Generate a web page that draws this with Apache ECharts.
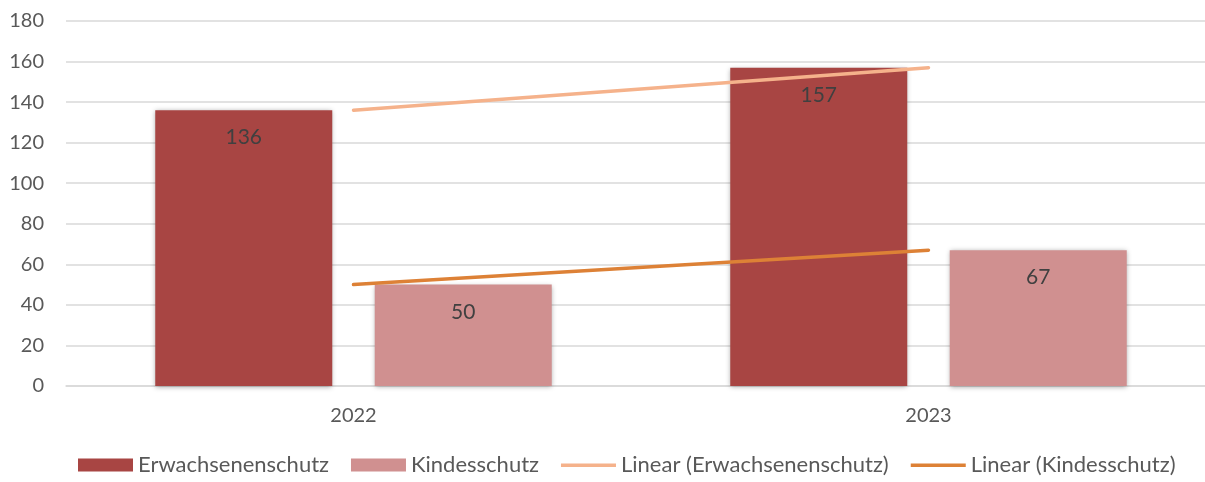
<!DOCTYPE html>
<html>
<head>
<meta charset="utf-8">
<script src="https://cdn.jsdelivr.net/npm/echarts@6/dist/echarts.min.js"></script>
<style>
  html, body { margin: 0; padding: 0; background: #fff; }
  #chart { width: 1205px; height: 482px; }
</style>
</head>
<body>
<div id="chart"></div>
<script>
// Chart data
const years = ['2022', '2023'];
const adultProtection = [136, 157];
const childProtection = [50, 67];
const yTicks = { min: 0, max: 180, step: 20 };

const FONT = 'Lato';
const TEXT = '#595959';

// thin line icon inside a full-height box so it is not stretched
const LINE_ICON = 'path://M0,0L0.1,0M0,5L55,5L55,8.5L0,8.5ZM0,13L0.1,13';

const chart = echarts.init(document.getElementById('chart'));

const barShadow = {
    shadowBlur: 5,
    shadowColor: 'rgba(0,0,0,0.35)',
    shadowOffsetX: 0,
    shadowOffsetY: 1
};

chart.setOption({
    animation: false,
    textStyle: { fontFamily: FONT },
    grid: { left: 66, right: -11, top: 21, bottom: 96, outerBoundsMode: 'none' },
    legend: {
        bottom: 1,
        left: 73,
        itemWidth: 55,
        itemHeight: 13,
        itemGap: 22,
        textStyle: { fontSize: 22, color: TEXT, fontFamily: FONT },
        data: [
            { name: 'Erwachsenenschutz', icon: 'rect' },
            { name: 'Kindesschutz', icon: 'rect' },
            { name: 'Linear (Erwachsenenschutz)', icon: LINE_ICON },
            { name: 'Linear (Kindesschutz)', icon: LINE_ICON }
        ]
    },
    xAxis: {
        type: 'category',
        data: years,
        axisLine: { lineStyle: { color: '#d9d9d9', width: 1.5 } },
        axisTick: { show: false },
        axisLabel: { fontSize: 20, color: TEXT, margin: 20 }
    },
    yAxis: {
        type: 'value',
        min: yTicks.min,
        max: yTicks.max,
        interval: yTicks.step,
        axisLine: { show: false },
        axisTick: { show: false },
        splitLine: { lineStyle: { color: '#d9d9d9', width: 1.5 } },
        axisLabel: { fontSize: 20, color: TEXT, margin: 22 }
    },
    series: [
        {
            name: 'Erwachsenenschutz',
            type: 'bar',
            data: adultProtection,
            barWidth: 177,
            barGap: '24%',
            itemStyle: Object.assign({ color: '#A84543' }, barShadow),
            label: { show: true, position: 'insideTop', distance: 17, fontSize: 21, color: '#404040' }
        },
        {
            name: 'Kindesschutz',
            type: 'bar',
            data: childProtection,
            barWidth: 177,
            barGap: '24%',
            itemStyle: Object.assign({ color: '#D09090' }, barShadow),
            label: { show: true, position: 'insideTop', distance: 17, fontSize: 21, color: '#404040' }
        },
        {
            name: 'Linear (Erwachsenenschutz)',
            type: 'line',
            data: adultProtection,
            symbol: 'none',
            z: 5,
            lineStyle: { color: '#F5B28B', width: 3.5, cap: 'round' },
            itemStyle: { color: '#F5B28B' }
        },
        {
            name: 'Linear (Kindesschutz)',
            type: 'line',
            data: childProtection,
            symbol: 'none',
            z: 5,
            lineStyle: { color: '#DD8136', width: 3.5, cap: 'round' },
            itemStyle: { color: '#DD8136' }
        }
    ]
});
</script>
</body>
</html>
